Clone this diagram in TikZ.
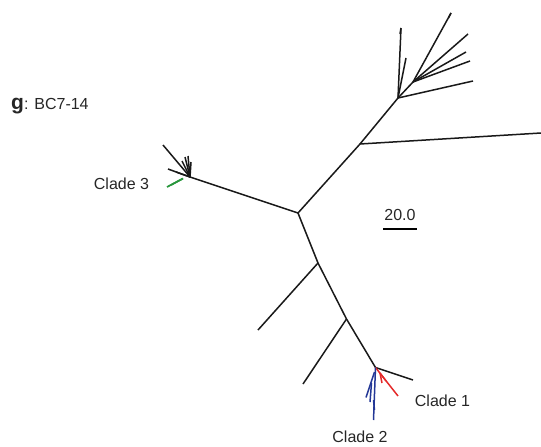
\documentclass[tikz,border=0pt]{standalone}
\usepackage{fontspec}
\setmainfont{Liberation Sans}
\begin{document}
\begin{tikzpicture}[x=1pt,y=-1pt,
  br/.style={line width=1.5pt,black!90},
  rbr/.style={line width=1.5pt,color={rgb,255:red,228;green,40;blue,40}},
  bbr/.style={line width=1.5pt,color={rgb,255:red,35;green,55;blue,150}},
  gbr/.style={line width=1.7pt,color={rgb,255:red,40;green,150;blue,60}},
  lab/.style={font=\fontsize{16}{18}\selectfont,text=black!85,inner sep=0pt}]
\useasboundingbox (0,0) rectangle (541,447);
% internal nodes
\coordinate (c) at (298,213);
\coordinate (u) at (360,144);
\coordinate (f) at (398,98);
\coordinate (f2) at (413,82);
\coordinate (l) at (190,177);
\coordinate (d1) at (318,263);
\coordinate (d2) at (346.5,319);
\coordinate (d3) at (375.5,367.5);
% tips
\coordinate (tR) at (541,133);
\coordinate (t1) at (401,28);
\coordinate (t2) at (406,58);
\coordinate (t3) at (451,13);
\coordinate (t4) at (468,34);
\coordinate (t5) at (466,52);
\coordinate (t6) at (470,61);
\coordinate (t7) at (473,81);
\coordinate (a1) at (258,330);
\coordinate (a2) at (303,384);
\coordinate (a3) at (413,380);
% backbone
\draw[br] (l) -- (c) -- (u) -- (tR);
\draw[br] (u) -- (f);
\draw[br] (c) -- (d1) -- (d2) -- (d3);
\draw[br] (d1) -- (a1);
\draw[br] (d2) -- (a2);
\draw[br] (d3) -- (a3);
% fan
\draw[br] (f) -- (t1);
\draw[br] (t1) -- ++(-1,6);
\draw[br] (f) -- (t2);
\draw[br] (f) -- (f2);
\draw[br] (f2) -- (t3);
\draw[br] (t3) -- ++(-2.5,5);
\draw[br] (f2) -- (t4);
\draw[br] (f2) -- (t5);
\draw[br] (f2) -- (t6);
\draw[br] (f) -- (t7);
% clade 3
\coordinate (k1) at (163,145);
\coordinate (k2) at (185,157);
\coordinate (k3) at (188,156);
\coordinate (k4) at (191,162);
\coordinate (k5) at (182,161);
\coordinate (k6) at (168,169);
\coordinate (k7) at (176,172);
\draw[br] (l) -- (k1);
\draw[br] (l) -- (k2);
\draw[br] (l) -- (k3);
\draw[br] (l) -- (k4);
\draw[br] (l) -- (k5);
\draw[br] (l) -- (k6);
\draw[br] (l) -- (k7);
\coordinate (gn) at (183,178.5);
\coordinate (g1) at (167,187);
\coordinate (g2) at (171,185);
\draw[gbr] (gn) -- (g1);
\draw[gbr] (gn) -- (g2);
% clade 1 (red)
\coordinate (r1) at (398,396);
\coordinate (r2) at (380,373);
\coordinate (r3) at (382,383);
\draw[rbr] (d3) -- (r1);
\draw[rbr] (r2) -- (r3);
\draw[rbr] (r2) -- ++(6,8);
% clade 2 (blue)
\coordinate (b0) at (374.5,372);
\coordinate (b1) at (373.5,420);
\coordinate (b2) at (366,397.5);
\coordinate (b3) at (371.5,383);
\coordinate (b4) at (370,402);
\coordinate (b5) at (374.5,410);
\draw[bbr] (d3) -- (b1);
\draw[bbr] (b0) -- (b2);
\draw[bbr] (b3) -- (b4);
\draw[bbr] (373.5,400) -- (b5);
% labels
\node[lab] (L3) at (121.5,184) {Clade 3};
\node[lab] (L1) at (442.5,400.5) {Clade 1};
\node[lab] (L2) at (360,437) {Clade 2};
\node[lab,anchor=base west] (tt) at (11,109) {\textbf{\fontsize{21}{22}\selectfont g}: BC7-14};
\node[lab] (sc) at (400,214.5) {20.0};
\coordinate (s1) at (383,229);
\coordinate (s2) at (417,229);
\draw[line width=1.1pt,black] (s1) -- (s2);
\end{tikzpicture}
\end{document}
